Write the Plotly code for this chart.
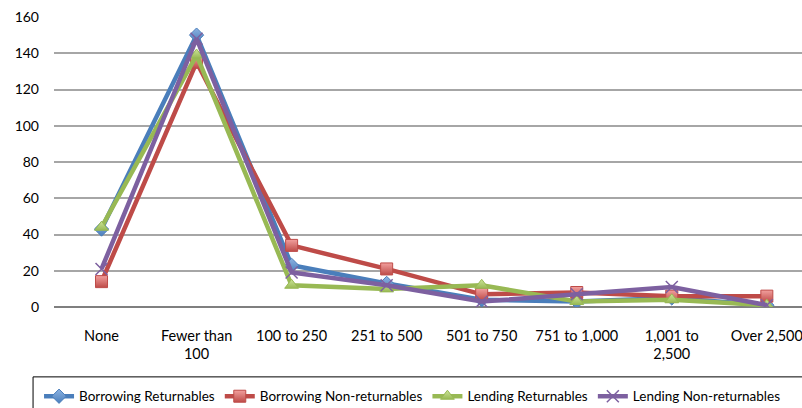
import plotly.graph_objects as go

categories = ["None", "Fewer than<br>100", "100 to 250", "251 to 500", "501 to 750",
              "751 to 1,000", "1,001 to<br>2,500", "Over 2,500"]

borrowing_returnables = [43, 150, 23, 13, 4, 3, 5, 1]
borrowing_nonreturnables = [14, 135, 34, 21, 7, 8, 6, 6]
lending_returnables = [44, 139, 12, 10, 12, 3, 4, 1]
lending_nonreturnables = [21, 148, 19, 12, 3, 7, 11, 1]

y_ticks = [0, 20, 40, 60, 80, 100, 120, 140, 160]

FONT = "Lato, 'Open Sans', sans-serif"

series = [
    ("Borrowing Returnables", borrowing_returnables, "#4A7EBB", "#8DB3E2",
     dict(symbol="diamond", size=11)),
    ("Borrowing Non-returnables", borrowing_nonreturnables, "#BE4B48", "#F2A09E",
     dict(symbol="square", size=12)),
    ("Lending Returnables", lending_returnables, "#98B954", "#CDE59A",
     dict(symbol="triangle-up", size=12)),
    ("Lending Non-returnables", lending_nonreturnables, "#7D60A0", "#A58BC6",
     dict(symbol="x-thin-open", size=12)),
]

fig = go.Figure()
for name, vals, line_col, light_col, mk in series:
    if mk["symbol"] == "x-thin-open":
        marker = dict(symbol="x-thin-open", size=mk["size"], color=line_col,
                      line=dict(color=line_col, width=1.5))
    else:
        marker = dict(symbol=mk["symbol"], size=mk["size"], color=light_col,
                      line=dict(color=line_col, width=1),
                      gradient=dict(type="vertical", color=line_col))
    fig.add_trace(go.Scatter(
        x=categories, y=vals, name=name, mode="lines+markers",
        line=dict(color=line_col, width=4.5),
        marker=marker,
    ))

# legend frame (runs past the right and bottom edges of the page)
fig.add_shape(type="rect", xref="paper", yref="paper",
              x0=-0.028, x1=1.05, y0=-0.40, y1=-0.241,
              line=dict(color="black", width=1), fillcolor="rgba(0,0,0,0)")

fig.update_layout(
    width=802, height=408,
    margin=dict(l=54, r=0, t=17, b=101, autoexpand=False),
    paper_bgcolor="white", plot_bgcolor="white",
    font=dict(family=FONT, size=14, color="black"),
    showlegend=True,
    legend=dict(
        orientation="h", x=-0.02, xref="paper", xanchor="left",
        y=-0.255, yanchor="top",
        borderwidth=0, bgcolor="rgba(0,0,0,0)",
        font=dict(family=FONT, size=13.5, color="black"),
        itemwidth=30, tracegroupgap=0,
    ),
    xaxis=dict(
        type="category", range=[-0.5, 7.37], automargin=False,
        showgrid=False, showline=False, zeroline=False,
        ticks="", tickfont=dict(size=14.5),
        ticklabelstandoff=18,
    ),
    yaxis=dict(
        range=[0, 160], tickvals=y_ticks, automargin=False,
        showgrid=True, gridcolor="#A6A6A6", gridwidth=1.5,
        zeroline=True, zerolinecolor="#7F7F7F", zerolinewidth=2,
        showline=False, ticks="", tickfont=dict(size=14),
        ticklabelstandoff=14,
    ),
)

fig.write_html("out.html")
